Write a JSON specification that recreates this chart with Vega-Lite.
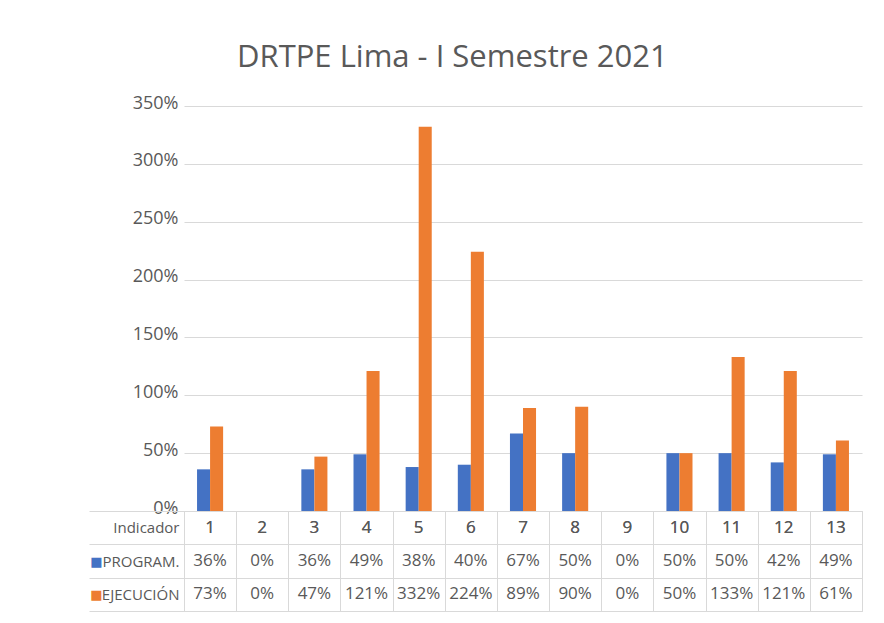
{
  "$schema": "https://vega.github.io/schema/vega-lite/v6.json",
  "background": "white",
  "padding": {"left": 88, "top": 42, "right": 19, "bottom": 5},
  "bounds": "flush",
  "title": {"text": "DRTPE Lima - I Semestre 2021", "font": "Open Sans", "fontSize": 31, "fontWeight": "normal", "color": "#595959", "anchor": "start", "offset": 20, "dx": 149},
  "datasets": {
    "d": [
      {"indicador": 1, "serie": "PROGRAM.", "valor": 0.36},
      {"indicador": 1, "serie": "EJECUCIÓN", "valor": 0.73},
      {"indicador": 2, "serie": "PROGRAM.", "valor": 0},
      {"indicador": 2, "serie": "EJECUCIÓN", "valor": 0},
      {"indicador": 3, "serie": "PROGRAM.", "valor": 0.36},
      {"indicador": 3, "serie": "EJECUCIÓN", "valor": 0.47},
      {"indicador": 4, "serie": "PROGRAM.", "valor": 0.49},
      {"indicador": 4, "serie": "EJECUCIÓN", "valor": 1.21},
      {"indicador": 5, "serie": "PROGRAM.", "valor": 0.38},
      {"indicador": 5, "serie": "EJECUCIÓN", "valor": 3.32},
      {"indicador": 6, "serie": "PROGRAM.", "valor": 0.40},
      {"indicador": 6, "serie": "EJECUCIÓN", "valor": 2.24},
      {"indicador": 7, "serie": "PROGRAM.", "valor": 0.67},
      {"indicador": 7, "serie": "EJECUCIÓN", "valor": 0.89},
      {"indicador": 8, "serie": "PROGRAM.", "valor": 0.50},
      {"indicador": 8, "serie": "EJECUCIÓN", "valor": 0.90},
      {"indicador": 9, "serie": "PROGRAM.", "valor": 0},
      {"indicador": 9, "serie": "EJECUCIÓN", "valor": 0},
      {"indicador": 10, "serie": "PROGRAM.", "valor": 0.50},
      {"indicador": 10, "serie": "EJECUCIÓN", "valor": 0.50},
      {"indicador": 11, "serie": "PROGRAM.", "valor": 0.50},
      {"indicador": 11, "serie": "EJECUCIÓN", "valor": 1.33},
      {"indicador": 12, "serie": "PROGRAM.", "valor": 0.42},
      {"indicador": 12, "serie": "EJECUCIÓN", "valor": 1.21},
      {"indicador": 13, "serie": "PROGRAM.", "valor": 0.49},
      {"indicador": 13, "serie": "EJECUCIÓN", "valor": 0.61}
    ]
  },
  "data": {"name": "d"},
  "spacing": 0,
  "vconcat": [
    {
      "width": 678,
      "height": 405,
      "view": {"stroke": null},
      "mark": {"type": "bar"},
      "encoding": {
        "x": {"field": "indicador", "type": "ordinal", "scale": {"paddingInner": 0.5, "paddingOuter": 0.25}, "axis": null},
        "xOffset": {"field": "serie", "type": "nominal", "sort": ["PROGRAM.", "EJECUCIÓN"], "scale": {"paddingInner": 0, "paddingOuter": 0}},
        "y": {
          "field": "valor", "type": "quantitative",
          "scale": {"domain": [0, 3.5], "nice": false},
          "axis": {"values": [0, 0.5, 1, 1.5, 2, 2.5, 3, 3.5], "format": ".0%", "title": null, "domain": false, "ticks": false, "labelPadding": 6, "labelOffset": -3, "labelFontSize": 18, "labelFont": "Open Sans", "labelColor": "#595959", "gridColor": "#d9d9d9"}
        },
        "color": {"field": "serie", "type": "nominal", "scale": {"domain": ["PROGRAM.", "EJECUCIÓN"], "range": ["#4472C4", "#ED7D31"]}, "legend": null}
      }
    },
    {
      "width": 678,
      "height": 100,
      "view": {"stroke": "#d9d9d9"},
      "layer": [
        {
          "layer": [
            {
              "mark": {"type": "text", "font": "Open Sans", "fontSize": 17, "color": "#595959"},
              "encoding": {
                "x": {"field": "indicador", "type": "ordinal", "scale": {"paddingInner": 0, "paddingOuter": 0}, "axis": {"title": null, "labels": false, "ticks": false, "domain": false, "grid": true, "tickBand": "extent", "gridColor": "#d9d9d9"}},
                "y": {"field": "serie", "type": "nominal", "scale": {"domain": ["Indicador", "PROGRAM.", "EJECUCIÓN"], "paddingInner": 0, "paddingOuter": 0},
                  "axis": {"title": null, "domain": false, "ticks": true, "tickSize": 95, "tickColor": "#d9d9d9", "grid": true, "gridColor": "#d9d9d9", "tickBand": "extent", "labelPadding": -90, "labelFont": "Open Sans", "labelFontSize": 15, "labelColor": "#595959"}},
                "text": {"field": "valor", "type": "quantitative", "format": ".0%"}
              }
            },
            {
              "mark": {"type": "text", "font": "Open Sans", "fontSize": 17, "color": "#595959"},
              "encoding": {
                "x": {"field": "indicador", "type": "ordinal"},
                "y": {"datum": "Indicador", "type": "nominal"},
                "text": {"field": "indicador", "type": "nominal"}
              }
            }
          ]
        },
        {
          "mark": {"type": "point", "opacity": 0},
          "encoding": {
            "x": {"field": "indicador", "type": "ordinal"},
            "y": {"field": "serie", "type": "nominal", "scale": {"domain": ["Indicador", "PROGRAM.", "EJECUCIÓN"], "paddingInner": 0, "paddingOuter": 0},
              "axis": {"orient": "left", "title": null, "domain": false, "ticks": false, "grid": false, "labelPadding": 82, "labelFontSize": 13, "labelFont": "DejaVu Sans", "labelExpr": "datum.value == 'Indicador' ? '' : '■'", "labelColor": {"expr": "datum.value == 'PROGRAM.' ? '#4472C4' : '#ED7D31'"}}}
          }
        }
      ],
      "resolve": {"scale": {"y": "independent"}, "axis": {"y": "independent"}}
    }
  ],
  "config": {"font": "Open Sans"}
}
